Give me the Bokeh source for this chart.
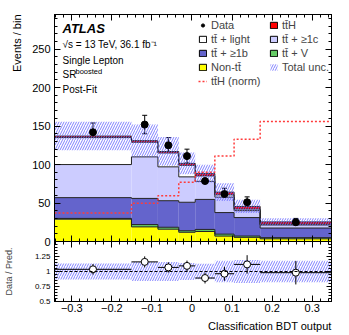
import numpy as np
from bokeh.plotting import figure
from bokeh.models import (ColumnDataSource, Legend, LegendItem, Label, LinearAxis, Title,
                          FixedTicker, Whisker, TeeHead, Span, Range1d, CustomJSTickFormatter)
from bokeh.layouts import column
from bokeh.embed import file_html
from bokeh.resources import INLINE

# ---------------- data ----------------
bin_edges = [-0.343, -0.151, -0.085, -0.033, 0.008, 0.057, 0.105, 0.170, 0.348]
non_tt   = [29, 19, 16, 12, 13, 7, 5.4, 3.5]
tt_v     = [1, 3, 2.5, 2, 2.7, 2.6, 1.7, 1.5]
tt_1b    = [27, 34, 34.5, 37, 39, 28, 24, 12.5]
tt_1c    = [43, 54, 44, 33, 23.5, 20, 9, 4]
tt_light = [35, 19, 18, 15, 7, 3, 2, 1]
tth      = [2, 2, 2, 2.5, 3, 3.5, 3.5, 3]
tth_norm = [37, 49.6, 59.5, 77, 90, 111, 133, 156]
data     = [142, 152, 125, 111, 78.6, 61.7, 51, 25]
data_err = [12, 12, 10, 9, 8, 7.5, 7, 5]
rel_unc  = [0.135, 0.16, 0.16, 0.14, 0.13, 0.18, 0.19, 0.18]

x_ticks = [-0.3, -0.2, -0.1, 0, 0.1, 0.2, 0.3]
y_ticks = [0, 50, 100, 150, 200, 250]
r_ticks = [0.5, 0.75, 1, 1.25]

FONT = "Liberation Sans"
TT = "tt\u0304"

edges = np.array(bin_edges)
lefts, rights = edges[:-1], edges[1:]
centers = (lefts + rights) / 2
comps = np.array([non_tt, tt_v, tt_1b, tt_1c, tt_light, tth], float)
colors = ["#ffff00", "#66cc66", "#6464cc", "#ccccff", "#ffffff", "#ff0000"]
cum = np.cumsum(comps, axis=0)
bottoms = np.vstack([np.zeros(len(centers)), cum[:-1]])
total = cum[-1]
unc = np.array(rel_unc)
dat = np.array(data, float)
derr = np.array(data_err, float)

x_minor = [float(v) for v in np.round(np.arange(-0.34, 0.35, 0.02), 3)]
y_minor = list(range(0, 300, 10))
r_minor = [float(v) for v in np.round(np.arange(0.5, 1.51, 0.05), 3)]

FH = 227                    # frame height of the main panel
LEFT, RIGHT = 49, 14        # side borders (frame spans 282 px)
TOP, GAP = 14, 6            # main top border / bottom border (overlapped by the ratio panel)
WIDTH = LEFT + 282 + RIGHT


def style_axis(ax, size="11px"):
    ax.major_tick_in = 6
    ax.major_tick_out = 0
    ax.minor_tick_in = 3
    ax.minor_tick_out = 0
    ax.axis_line_color = "black"
    ax.major_tick_line_color = "black"
    ax.minor_tick_line_color = "black"
    ax.major_label_text_font = FONT
    ax.major_label_text_font_size = size
    ax.major_label_text_color = "black"
    ax.major_label_standoff = 4
    ax.axis_label_text_font = FONT
    ax.axis_label_text_font_style = "normal"


def tick_only_axes(fig, side, majors, minors, major_len=6):
    """Unlabelled tick marks on a side: one axis for long ticks, one for short ones."""
    for ticks, ln in [(majors, major_len), (minors, 3)]:
        ax = LinearAxis(ticker=FixedTicker(ticks=[], minor_ticks=ticks))
        ax.minor_tick_in = ln
        ax.minor_tick_out = 0
        ax.major_tick_in = 0
        ax.major_tick_out = 0
        ax.major_label_standoff = 0
        ax.axis_label_standoff = 0
        ax.minor_tick_line_color = "black"
        ax.axis_line_color = "black"
        fig.add_layout(ax, side)


# ---------------- main panel ----------------
p = figure(width=WIDTH, height=TOP + FH + GAP, x_range=Range1d(edges[0], edges[-1]),
           y_range=Range1d(0, 295), output_backend="svg", toolbar_location=None,
           x_axis_location=None,
           min_border_left=LEFT, min_border_right=RIGHT, min_border_top=TOP, min_border_bottom=GAP)
p.xgrid.visible = False
p.ygrid.visible = False
p.outline_line_color = "black"

p.yaxis.ticker = FixedTicker(ticks=y_ticks, minor_ticks=y_minor)
style_axis(p.yaxis[0], size="11px")
tick_only_axes(p, "below", x_ticks, x_minor)
tick_only_axes(p, "above", x_ticks, x_minor)
tick_only_axes(p, "right", y_ticks, y_minor)
p.add_layout(Title(text="Events / bin", align="right", text_font=FONT, text_font_size="11px",
                   text_font_style="normal", text_color="black", standoff=14), "left")

for b, t, c in zip(bottoms, cum, colors):
    p.quad(left=lefts, right=rights, bottom=b, top=t, fill_color=c, line_color=None)
for t in cum:
    p.step(x=edges, y=np.append(t, t[-1]), mode="after", line_color="#222222", line_width=1)

# legend swatches: same boxes with an outline, hidden in the plot area
leg = {}
for name, b, t, c in zip(["non", "v", "b", "c", "light", "tth"], bottoms, cum, colors):
    leg[name] = p.quad(left=lefts, right=rights, bottom=b, top=t, fill_color=c,
                       line_color="black", line_width=1, visible=False)

band = p.quad(left=lefts, right=rights, bottom=total * (1 - unc), top=total * (1 + unc),
              fill_alpha=0, line_color=None, hatch_pattern="/", hatch_color="#6a6aff",
              hatch_alpha=0.85, hatch_scale=5, hatch_weight=1)

norm = p.step(x=edges, y=np.append(tth_norm, tth_norm[-1]), mode="after",
              line_color="#ff3b3b", line_dash="2 2", line_width=1.5)

err_src = ColumnDataSource(dict(x=centers, lo=dat - derr, hi=dat + derr))
p.add_layout(Whisker(source=err_src, base="x", lower="lo", upper="hi", line_color="black",
                     line_width=1, upper_head=TeeHead(size=5, line_color="black"),
                     lower_head=TeeHead(size=5, line_color="black")))
pts = p.scatter(x=centers, y=dat, size=7, color="black")


def mk_legend(items, loc):
    lg = Legend(items=items, location=loc, orientation="vertical",
                label_text_font=FONT, label_text_font_size="11px",
                label_height=13, glyph_height=8, glyph_width=9, label_standoff=4,
                spacing=1, padding=0, margin=0, border_line_color=None,
                background_fill_alpha=0)
    p.add_layout(lg)


mk_legend([LegendItem(label="Data", renderers=[pts]),
           LegendItem(label=TT + " + light", renderers=[leg["light"]]),
           LegendItem(label=TT + " + \u22651b", renderers=[leg["b"]]),
           LegendItem(label="Non-" + TT, renderers=[leg["non"]]),
           LegendItem(label=TT + "H (norm)", renderers=[norm])], (144, 154))
mk_legend([LegendItem(label=TT + "H", renderers=[leg["tth"]]),
           LegendItem(label=TT + " + \u22651c", renderers=[leg["c"]]),
           LegendItem(label=TT + " + V", renderers=[leg["v"]]),
           LegendItem(label="Total unc.", renderers=[band])], (215, 168))

for txt, y, style, size in [("ATLAS", 28, "bold italic", "13px"),
                            ("\u221as = 13 TeV, 36.1 fb\u207b\u00b9", 44, "normal", "10px"),
                            ("Single Lepton", 60, "normal", "10px"),
                            ("SR", 74, "normal", "10px"),
                            ("Post-Fit", 89, "normal", "10px")]:
    p.add_layout(Label(x=8, y=FH - (y - TOP), x_units="screen", y_units="screen", text=txt,
                       text_font=FONT, text_font_style=style, text_font_size=size,
                       text_baseline="middle", text_color="black"))
p.add_layout(Label(x=21, y=FH - (74 - TOP) + 3, x_units="screen", y_units="screen", text="boosted",
                   text_font=FONT, text_font_size="7.5px", text_baseline="middle", text_color="black"))

# ---------------- ratio panel ----------------
r = figure(width=WIDTH, height=60 + 33, x_range=p.x_range, y_range=Range1d(0.5, 1.5),
           output_backend="svg", toolbar_location=None,
           min_border_left=LEFT, min_border_right=RIGHT, min_border_top=0, min_border_bottom=33)
r.xgrid.visible = False
r.ygrid.visible = False
r.outline_line_color = "black"
r.border_fill_alpha = 0
r.xaxis.ticker = FixedTicker(ticks=x_ticks, minor_ticks=x_minor)
r.xaxis.formatter = CustomJSTickFormatter(code="return tick < 0 ? '\\u2212' + String(-tick) : String(tick)")
style_axis(r.xaxis[0], size="11px")
r.xaxis.major_label_standoff = 2
r.yaxis.ticker = FixedTicker(ticks=r_ticks, minor_ticks=r_minor)
r.yaxis.formatter = CustomJSTickFormatter(code="return String(tick)")
style_axis(r.yaxis[0], size="8px")
r.yaxis.major_tick_in = 5
r.yaxis.axis_label = "Data / Pred."
r.yaxis.axis_label_text_font_size = "9px"
r.yaxis.axis_label_standoff = 18
tick_only_axes(r, "above", x_ticks, x_minor)
tick_only_axes(r, "right", r_ticks, r_minor, major_len=5)
r.add_layout(Title(text="Classification BDT output", align="right", text_font=FONT,
                   text_font_size="11px", text_font_style="normal", text_color="black",
                   standoff=6), "below")

r.quad(left=lefts, right=rights, bottom=1 - unc, top=1 + unc, fill_alpha=0, line_color=None,
       hatch_pattern="/", hatch_color="#6a6aff", hatch_alpha=0.85, hatch_scale=5, hatch_weight=1)
r.add_layout(Span(location=1, dimension="width", line_color="black", line_dash="3 2", line_width=1))
ratio = dat / total
rerr = derr / total
r.segment(x0=lefts, x1=rights, y0=ratio, y1=ratio, line_color="black", line_width=1)
r.segment(x0=centers, x1=centers, y0=ratio - rerr, y1=ratio + rerr, line_color="black", line_width=1)
r.scatter(x=centers, y=ratio, size=7, fill_color="white", line_color="black", line_width=1)

# let the ratio panel overlap the main panel's bottom border so the frames touch
try:
    r.margin = (-GAP, 0, 0, 0)
except Exception:
    r.styles = {"margin-top": f"-{GAP}px"}

layout = column(p, r, spacing=0)
open("out.html", "w").write(file_html(layout, INLINE))
